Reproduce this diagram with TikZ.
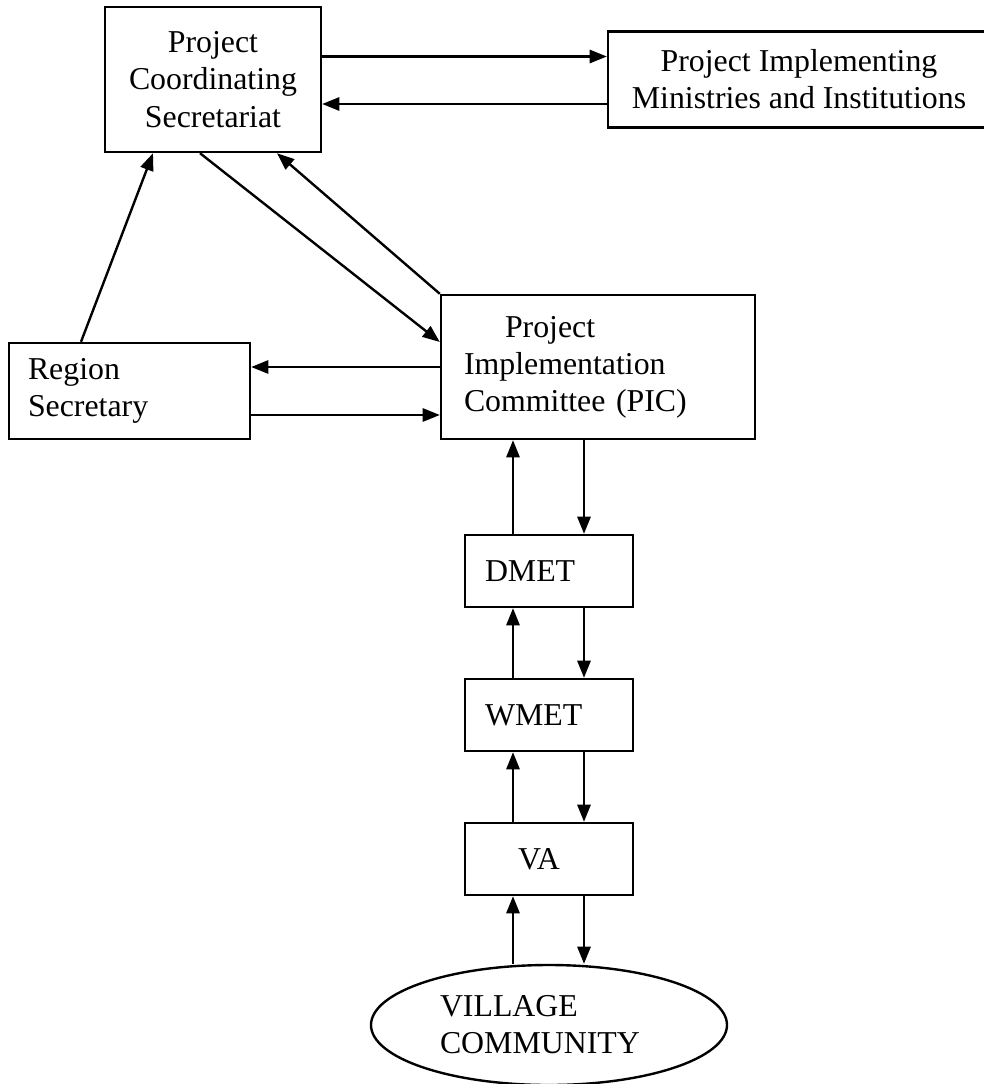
\documentclass[tikz,border=0pt]{standalone}
\usepackage{fontspec}
\setmainfont{Liberation Serif}
\usetikzlibrary{positioning,shapes.geometric,arrows.meta}
\newdimen\pxu \pxu=0.377pt

\begin{document}
\begin{tikzpicture}[x=\pxu, y=-\pxu, node distance=144\pxu, on grid]
\tikzstyle{every node}=[font=\fontsize{12}{14}\selectfont]
\tikzstyle{box}=[draw, rectangle, line width=0.9pt]
\tikzstyle{arr}=[-{Triangle[length=6.5pt,width=5pt]}, line width=0.9pt]
\useasboundingbox (0,0) rectangle (984,1084);
   \node[box, align=center, minimum width=216\pxu, minimum height=145\pxu](pcs) at (213,79.5){Project\\Coordinating\\Secretariat};
   \node[box, align=center, minimum width=382\pxu, minimum height=96\pxu](pimi) at (799,79.5){Project Implementing\\Ministries and Institutions};
   \node[box, align=left, text width=268\pxu, inner xsep=23\pxu, minimum height=144\pxu](pic) at (598,367){\hspace*{41\pxu}Project\\Implementation\\Committee (PIC)};
   \node[box, align=left, text width=203\pxu, inner xsep=19\pxu, minimum height=96\pxu](region) at (129.5,391){Region\\Secretary};
   \node[box, align=left, text width=128\pxu, inner xsep=20\pxu, minimum height=72\pxu](dmet) at (549,571){DMET};
   \node[box, align=left, text width=128\pxu, inner xsep=20\pxu, minimum height=72\pxu](wmet)[below=of dmet]{WMET};
   \node[box, align=left, text width=128\pxu, inner xsep=20\pxu, minimum height=72\pxu](va)[below=of wmet]{\hspace*{33\pxu}VA};
   \node[draw, ellipse, line width=0.9pt, align=left, text width=218\pxu, inner sep=0pt, minimum width=356\pxu, minimum height=120\pxu](vc)[below=166\pxu of va]{VILLAGE\\COMMUNITY};
   % top level
   \draw[arr] ([yshift=23\pxu]pcs.east) -- ([yshift=23\pxu]pimi.west);
   \draw[arr] ([yshift=-24.5\pxu]pimi.west) -- ([yshift=-24.5\pxu]pcs.east);
   \draw[arr] ([xshift=-48.5\pxu]region.north) -- ([xshift=-60\pxu]pcs.south);
   \draw[arr] ([xshift=-13\pxu]pcs.south) -- ([yshift=25\pxu]pic.west);
   \draw[arr] (pic.north west) -- ([xshift=64\pxu]pcs.south);
   \draw[arr] (pic.west) -- (pic.west -| region.east);
   \coordinate (rs) at ([yshift=-24\pxu]region.east);
   \draw[arr] (rs) -- (rs -| pic.west);
   % the column
   \coordinate (colup) at ([xshift=-36\pxu]dmet.north);
   \coordinate (coldn) at ([xshift=35\pxu]dmet.north);
   \foreach \lo/\hi in {pic/dmet,dmet/wmet,wmet/va,va/vc}{
      \draw[arr] (colup |- \hi.north) -- (colup |- \lo.south);
      \draw[arr] (coldn |- \lo.south) -- (coldn |- \hi.north);
   }
\end{tikzpicture}
\end{document}
